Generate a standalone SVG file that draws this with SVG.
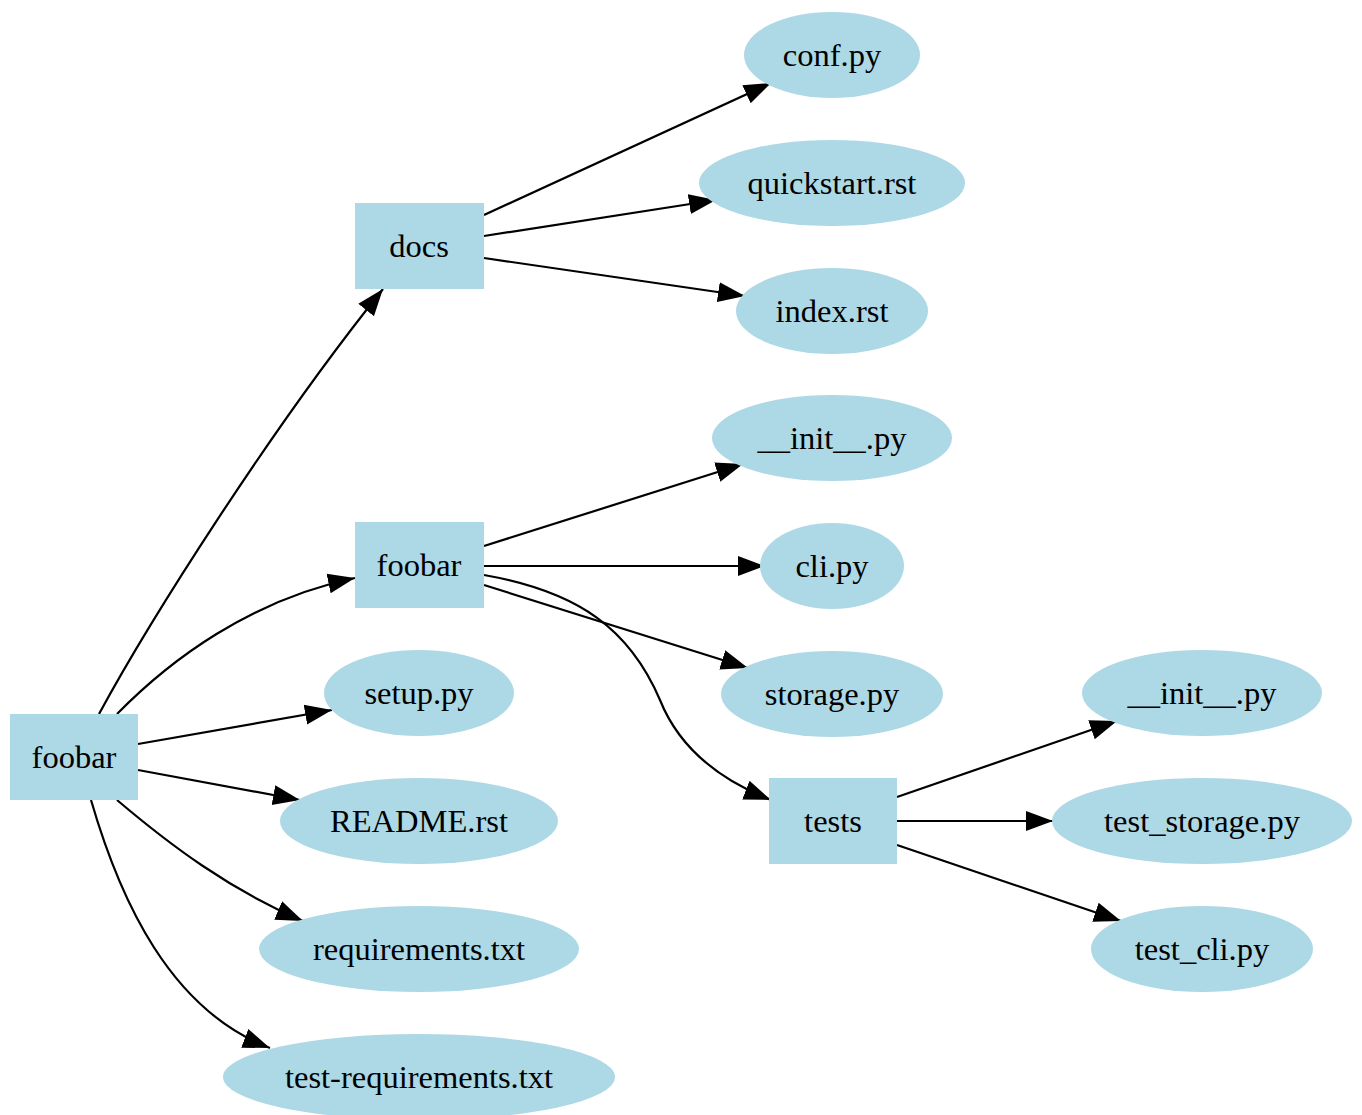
<svg xmlns="http://www.w3.org/2000/svg" width="1362" height="1115" viewBox="0 0 1362 1115">
<style>
.n{fill:#add8e6;stroke:none}
.t{font-family:"Liberation Serif","Times New Roman",serif;font-size:32.5px;fill:#000;text-anchor:middle;dominant-baseline:central}
.e{fill:none;stroke:#000;stroke-width:2.2}
</style>
<defs>
<marker id="a" markerUnits="userSpaceOnUse" markerWidth="28" markerHeight="24" viewBox="0 0 28 24" refX="27" refY="12" orient="auto">
<path d="M0,2 L27,12 L0,22 Z" fill="#000"/>
</marker>
</defs>
<rect width="1362" height="1115" fill="#fff"/>
<g id="edges">
<path class="e" marker-end="url(#a)" d="M99,714 C150,620 270,430 383,289"/>
<path class="e" marker-end="url(#a)" d="M117,714 C170,660 250,600 355,578"/>
<path class="e" marker-end="url(#a)" d="M138,744 L332,710"/>
<path class="e" marker-end="url(#a)" d="M138,770 L300,800"/>
<path class="e" marker-end="url(#a)" d="M117,800 C170,845 230,890 303,921"/>
<path class="e" marker-end="url(#a)" d="M91,800 C120,900 170,1010 270,1048"/>
<path class="e" marker-end="url(#a)" d="M484,215 L771,83"/>
<path class="e" marker-end="url(#a)" d="M484,236 L716,200"/>
<path class="e" marker-end="url(#a)" d="M484,258 L745,296"/>
<path class="e" marker-end="url(#a)" d="M484,546 L743,464"/>
<path class="e" marker-end="url(#a)" d="M484,566 L765,566"/>
<path class="e" marker-end="url(#a)" d="M484,585 L748,668"/>
<path class="e" marker-end="url(#a)" d="M484,575 C580,592 630,630 660,700 C678,745 715,778 771,800"/>
<path class="e" marker-end="url(#a)" d="M897,797 L1117,721"/>
<path class="e" marker-end="url(#a)" d="M897,821 L1053,821"/>
<path class="e" marker-end="url(#a)" d="M897,845 L1121,921"/>
</g>
<g id="root"><rect class="n" x="10" y="714" width="128" height="86"/><text class="t" x="74" y="757">foobar</text></g>
<g id="docs"><rect class="n" x="355" y="203" width="129" height="86"/><text class="t" x="419" y="246">docs</text></g>
<g id="pkg"><rect class="n" x="355" y="522" width="129" height="86"/><text class="t" x="419" y="565">foobar</text></g>
<g id="tests"><rect class="n" x="769" y="778" width="128" height="86"/><text class="t" x="833" y="821">tests</text></g>
<g id="conf"><ellipse class="n" cx="832" cy="55" rx="88" ry="43"/><text class="t" x="832" y="55">conf.py</text></g>
<g id="quickstart"><ellipse class="n" cx="832" cy="183" rx="133" ry="43"/><text class="t" x="832" y="183">quickstart.rst</text></g>
<g id="index"><ellipse class="n" cx="832" cy="311" rx="96" ry="43"/><text class="t" x="832" y="311">index.rst</text></g>
<g id="init1"><ellipse class="n" cx="832" cy="438" rx="120" ry="43"/><text class="t" x="832" y="438">__init__.py</text></g>
<g id="cli"><ellipse class="n" cx="832" cy="566" rx="72" ry="43"/><text class="t" x="832" y="566">cli.py</text></g>
<g id="storage"><ellipse class="n" cx="832" cy="694" rx="111" ry="43"/><text class="t" x="832" y="694">storage.py</text></g>
<g id="setup"><ellipse class="n" cx="419" cy="693" rx="95" ry="43"/><text class="t" x="419" y="693">setup.py</text></g>
<g id="readme"><ellipse class="n" cx="419" cy="821" rx="139" ry="43"/><text class="t" x="419" y="821">README.rst</text></g>
<g id="req"><ellipse class="n" cx="419" cy="949" rx="160" ry="43"/><text class="t" x="419" y="949">requirements.txt</text></g>
<g id="testreq"><ellipse class="n" cx="419" cy="1077" rx="196" ry="43"/><text class="t" x="419" y="1077">test-requirements.txt</text></g>
<g id="init2"><ellipse class="n" cx="1202" cy="693" rx="120" ry="43"/><text class="t" x="1202" y="693">__init__.py</text></g>
<g id="teststorage"><ellipse class="n" cx="1202" cy="821" rx="150" ry="43"/><text class="t" x="1202" y="821">test_storage.py</text></g>
<g id="testcli"><ellipse class="n" cx="1202" cy="949" rx="111" ry="43"/><text class="t" x="1202" y="949">test_cli.py</text></g>
</svg>
